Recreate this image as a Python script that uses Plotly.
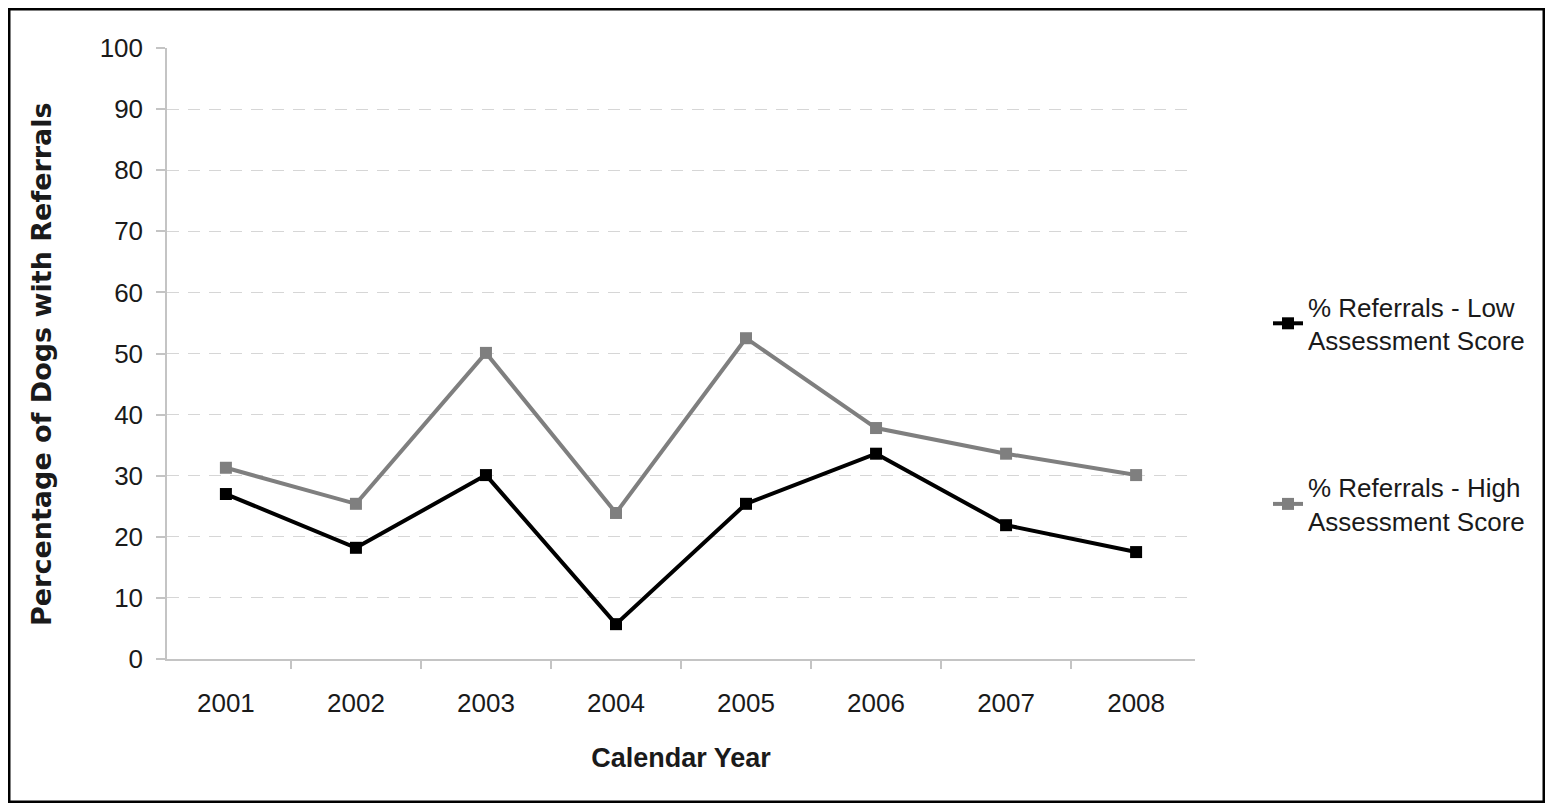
import plotly.graph_objects as go

years = ["2001", "2002", "2003", "2004", "2005", "2006", "2007", "2008"]
low_score = [27.0, 18.2, 30.1, 5.7, 25.4, 33.6, 21.9, 17.5]
high_score = [31.3, 25.4, 50.1, 23.9, 52.5, 37.8, 33.6, 30.1]
series_names = ["% Referrals - Low<br>Assessment Score", "% Referrals - High<br>Assessment Score"]
y_ticks = [0, 10, 20, 30, 40, 50, 60, 70, 80, 90, 100]

FONT = "Arial, 'Liberation Sans', sans-serif"
TXT = "#1a1a1a"

fig = go.Figure()
fig.add_trace(go.Scatter(
    x=years, y=low_score, name=series_names[0], mode="lines+markers",
    line=dict(color="#000000", width=4),
    marker=dict(symbol="square", size=12, color="#000000"),
    legendgroup="a",
))
fig.add_trace(go.Scatter(
    x=years, y=high_score, name=series_names[1], mode="lines+markers",
    line=dict(color="#7f7f7f", width=4),
    marker=dict(symbol="square", size=12, color="#7f7f7f"),
    legendgroup="b",
))

# page body has an 8px margin; keep the page inside the 1553x811 window
OFF = 8
W, H = 1553 - 2 * OFF, 811 - 2 * OFF
L, T = 167 - OFF, 48 - OFF
R = W - (1195 - OFF)
B = H - (659 - OFF)
pw, ph = W - L - R, H - T - B


def px_x(sx):
    return (sx - OFF - L) / pw


def px_y(sy):
    return (H - B - (sy - OFF)) / ph


fig.update_layout(
    width=W, height=H,
    margin=dict(l=L, r=R, t=T, b=B),
    paper_bgcolor="white", plot_bgcolor="white",
    font=dict(family=FONT, size=26, color=TXT),
    showlegend=True,
    legend=dict(
        x=px_x(1268), y=px_y(283), xanchor="left", yanchor="top",
        traceorder="grouped", tracegroupgap=110,
        font=dict(family=FONT, size=26, color=TXT),
        bgcolor="rgba(0,0,0,0)",
    ),
    xaxis=dict(
        type="category", tickson="boundaries", ticks="outside", ticklen=8,
        tickcolor="#c4c4c4", tickwidth=1.5,
        showline=True, linecolor="#c4c4c4", linewidth=1.5,
        showgrid=False, zeroline=False,
        ticklabelstandoff=20,
        tickfont=dict(family=FONT, size=26, color=TXT),
        title=dict(text="<b>Calendar Year</b>", standoff=31,
                   font=dict(family=FONT, size=27, color=TXT)),
    ),
    yaxis=dict(
        range=[0, 100], tickvals=y_ticks, ticks="outside", ticklen=9,
        tickcolor="#c4c4c4", tickwidth=1.5,
        showline=True, linecolor="#c4c4c4", linewidth=1.5,
        showgrid=True, gridcolor="#d6d6d6", gridwidth=1, griddash="12px,9px",
        zeroline=False,
        ticklabelstandoff=8,
        tickfont=dict(family=FONT, size=26, color=TXT),
    ),
)

fig.add_annotation(
    text="<b>Percentage of Dogs with Referrals</b>",
    xref="paper", yref="paper", x=px_x(42), y=px_y(364),
    xanchor="center", yanchor="middle", textangle=-90, showarrow=False,
    font=dict(family="'DejaVu Sans', sans-serif", size=27, color=TXT),
)

# outer frame around the whole figure
fig.add_shape(
    type="rect", xref="paper", yref="paper",
    x0=px_x(OFF + 1), x1=px_x(OFF + W - 1),
    y0=px_y(OFF + H - 1), y1=px_y(OFF + 1),
    line=dict(color="#000000", width=3), fillcolor="rgba(0,0,0,0)", layer="below",
)

fig.write_html("out.html")
